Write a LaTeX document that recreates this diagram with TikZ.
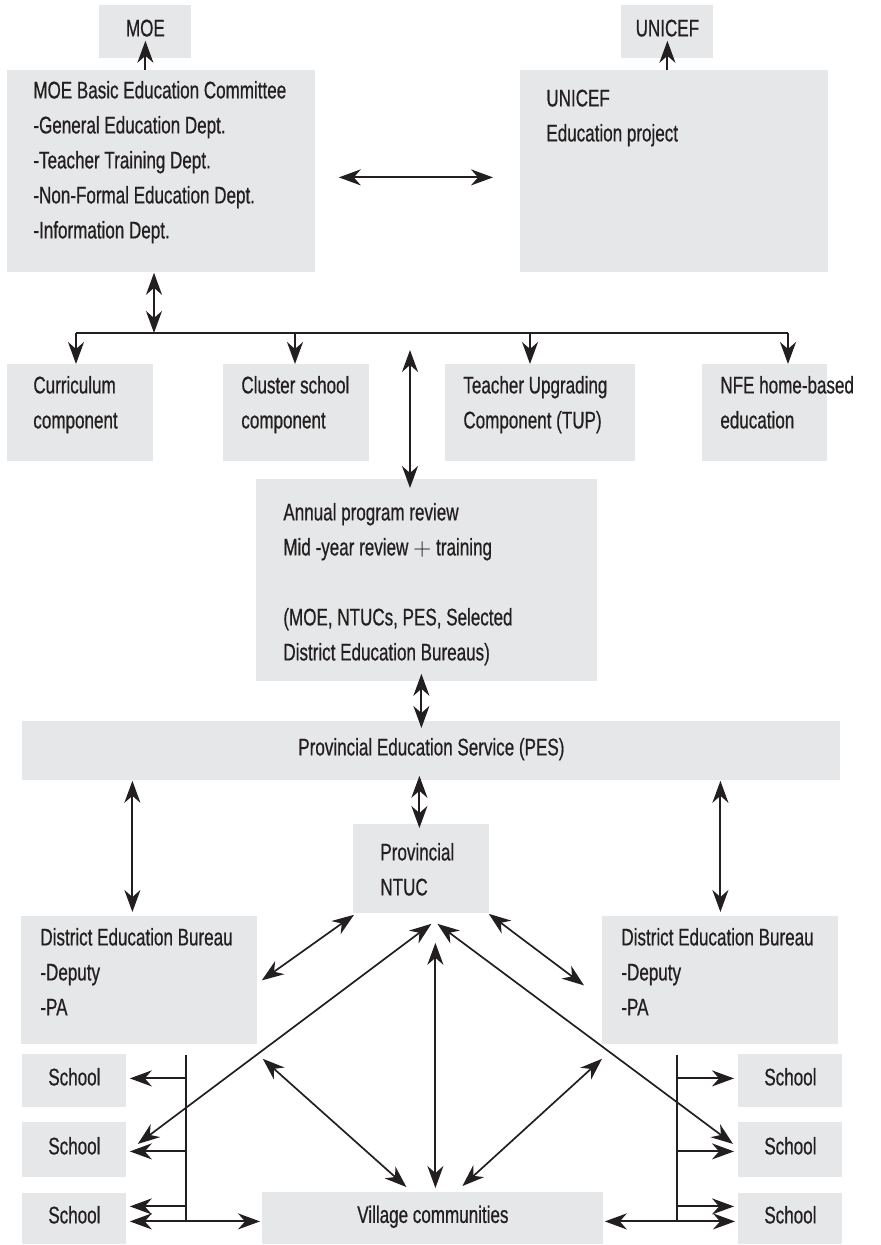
\documentclass[tikz,border=0pt]{standalone}
\usepackage{fontspec}
\setmainfont{Liberation Sans}[FakeStretch=0.71,FakeBold=0.6]
\usetikzlibrary{arrows.meta,calc}
\definecolor{boxgray}{HTML}{E6E7E8}
\definecolor{linecol}{HTML}{231F20}
\newcommand\btext[5]{\begin{minipage}[c][#2][t]{#1}\vspace*{\dimexpr #3-12.25pt\relax}\hspace*{#4}\begin{tabular}[t]{@{}l@{}}#5\end{tabular}\end{minipage}}
\tikzset{
  box/.style={fill=boxgray, inner sep=0pt, anchor=north west, text=linecol, font=\fontsize{12pt}{17.5pt}\selectfont},
  cbox/.style={box, align=center, text height=8.5pt, text depth=4pt},
  conn/.style={draw=linecol, line width=1pt},
  busline/.style={draw=linecol, line width=1.15pt},
  arr/.style={conn, -{Stealth[length=11pt,width=8pt,inset=3.5pt]}},
  darr/.style={conn, {Stealth[length=11pt,width=8pt,inset=3.5pt]}-{Stealth[length=11pt,width=8pt,inset=3.5pt]}},
  diag/.style={line width=0.85pt},
}
\begin{document}
\begin{tikzpicture}[x=0.5pt,y=-0.5pt]
\useasboundingbox (0,0) rectangle (880,1245);
% boxes
\node[cbox, minimum width=46pt, minimum height=26.5pt] (moe) at (99,5) {MOE};
\node[cbox, minimum width=46pt, minimum height=26.5pt] (unicef) at (621,5) {UNICEF};
\node[box] (moeb) at (7,70) {\btext{154pt}{101pt}{14pt}{13pt}{MOE Basic Education Committee\\-General Education Dept.\\-Teacher Training Dept.\\-Non-Formal Education Dept.\\-Information Dept.}};
\node[box] (unib) at (520,70) {\btext{154pt}{101pt}{18pt}{13pt}{UNICEF\\Education project}};
\node[box] (curr) at (7,364) {\btext{73pt}{48.5pt}{14.5pt}{13pt}{Curriculum\\component}};
\node[box] (clus) at (223,364) {\btext{73pt}{48.5pt}{14.5pt}{9pt}{Cluster school\\component}};
\node[box] (teach) at (445,364) {\btext{95pt}{48.5pt}{14.5pt}{9pt}{Teacher Upgrading\\Component (TUP)}};
\node[box] (nfe) at (702,364) {\btext{62.5pt}{48.5pt}{14.5pt}{9pt}{NFE home-based\\education}};
\node[box] (rev) at (256,479) {\btext{170.5pt}{101pt}{20.5pt}{13.5pt}{Annual program review\\Mid -year review $+$ training\\ \\(MOE, NTUCs, PES, Selected\\District Education Bureaus)}};
\node[cbox, minimum width=409pt, minimum height=29.5pt] (pes) at (22,721) {Provincial Education Service (PES)};
\node[box] (ntuc) at (353,824) {\btext{68pt}{44.5pt}{18pt}{13.5pt}{Provincial\\NTUC}};
\node[box] (debL) at (21,916) {\btext{118pt}{64pt}{14.5pt}{9.5pt}{District Education Bureau\\-Deputy\\-PA}};
\node[box] (debR) at (602,916) {\btext{118pt}{64pt}{14.5pt}{9.5pt}{District Education Bureau\\-Deputy\\-PA}};
\node[cbox, minimum width=52pt, minimum height=26.5pt] (sl1) at (22,1054) {School};
\node[cbox, minimum width=52pt, minimum height=27.5pt] (sl2) at (22,1122) {School};
\node[cbox, minimum width=52pt, minimum height=25.5pt] (sl3) at (22,1193) {School};
\node[cbox, minimum width=52pt, minimum height=26.5pt] (sr1) at (738,1054) {School};
\node[cbox, minimum width=52pt, minimum height=27.5pt] (sr2) at (738,1122) {School};
\node[cbox, minimum width=52pt, minimum height=25.5pt] (sr3) at (738,1193) {School};
\node[cbox, minimum width=170.5pt, minimum height=26pt] (vil) at (262,1192) {Village communities};
% top connectors
\draw[arr] (moeb.north -| moe.south) -- ([yshift=9pt]moe.south);
\draw[arr] (unib.north -| unicef.south) -- ([yshift=9pt]unicef.south);
\draw[darr] ($(moeb.east)+(23,6)$) -- ($(unib.west)+(-27,6)$);
% component bus
\coordinate (bus0) at (76,333);
\coordinate (bus1) at (154,333);
\coordinate (bus2) at (295,333);
\coordinate (bus3) at (530,333);
\coordinate (bus4) at (788,333);
\draw[busline] (bus0) -- (bus4);
\draw[darr] (bus1 |- moeb.south) -- (bus1);
\draw[arr] (bus0) -- (bus0 |- curr.north);
\draw[arr] (bus2) -- (bus2 |- clus.north);
\draw[arr] (bus3) -- (bus3 |- teach.north);
\draw[arr] (bus4) -- (bus4 |- nfe.north);
% review
\coordinate (revtop) at (410,350);
\draw[darr] (revtop) -- ($(revtop |- rev.north)+(0,9)$);
\draw[darr] ($(rev.south -| ntuc.north)+(0,-8)$) -- ($(pes.north -| ntuc.north)+(0,7)$);
% PES
\draw[darr] ($(pes.south -| ntuc.north)+(-2,-5)$) -- ($(ntuc.north)+(-2,4)$);
\draw[darr] ($(pes.south -| debL.north)+(-7,0)$) -- ($(debL.north)+(-7,-4)$);
\draw[darr] (pes.south -| debR.north) -- ($(debR.north)+(0,-4)$);
% NTUC diagonals
\draw[darr, diag] ($(ntuc.south west)+(1,1)$) -- ($(debL.east)+(4,0)$);
\draw[darr, diag] ($(ntuc.south east)+(-1,0)$) -- ($(debR.west)+(-18,5)$);
\draw[darr, diag] ($(ntuc.south)+(10,10)$) -- ($(sl2.east)+(11,-6)$);
\draw[darr, diag] ($(ntuc.south)+(16,10)$) -- ($(sr2.west)+(-5,-6)$);
\draw[darr] ($(ntuc.south)+(14,29)$) -- ($(vil.north)+(2.5,-4)$);
\draw[darr, diag] ($(debL.south east)+(5,14)$) -- ($(vil.north)+(-26.5,-5)$);
\draw[darr, diag] ($(debR.south west)+(0,14)$) -- ($(vil.north)+(29.5,-6)$);
% left school bus
\coordinate (lbt) at (186,1055);
\coordinate (lbb) at (186,1221);
\draw[busline] (lbt) -- (lbb);
\draw[arr] ($(sl1.east -| lbt)+(0,-2.5)$) -- ($(sl1.east)+(3,-2.5)$);
\draw[arr] ($(sl2.east -| lbt)+(0,1.5)$) -- ($(sl2.east)+(3,1.5)$);
\draw[arr] ($(sl3.east -| lbt)+(0,-12.5)$) -- ($(sl3.east)+(3,-12.5)$);
\draw[darr] ($(sl3.east)+(3,2.5)$) -- ($(vil.west)+(-2,3)$);
% right school bus
\coordinate (rbt) at (677,1055);
\coordinate (rbb) at (677,1221);
\draw[busline] (rbt) -- (rbb);
\draw[arr] ($(sr1.west -| rbt)+(0,-2.5)$) -- ($(sr1.west)+(-4,-2.5)$);
\draw[arr] ($(sr2.west -| rbt)+(0,1.5)$) -- ($(sr2.west)+(-4,1.5)$);
\draw[arr] ($(sr3.west -| rbt)+(0,-12.5)$) -- ($(sr3.west)+(-4,-12.5)$);
\draw[darr] ($(vil.east)+(1,3)$) -- ($(sr3.west)+(-3,2.5)$);
\end{tikzpicture}
\end{document}
